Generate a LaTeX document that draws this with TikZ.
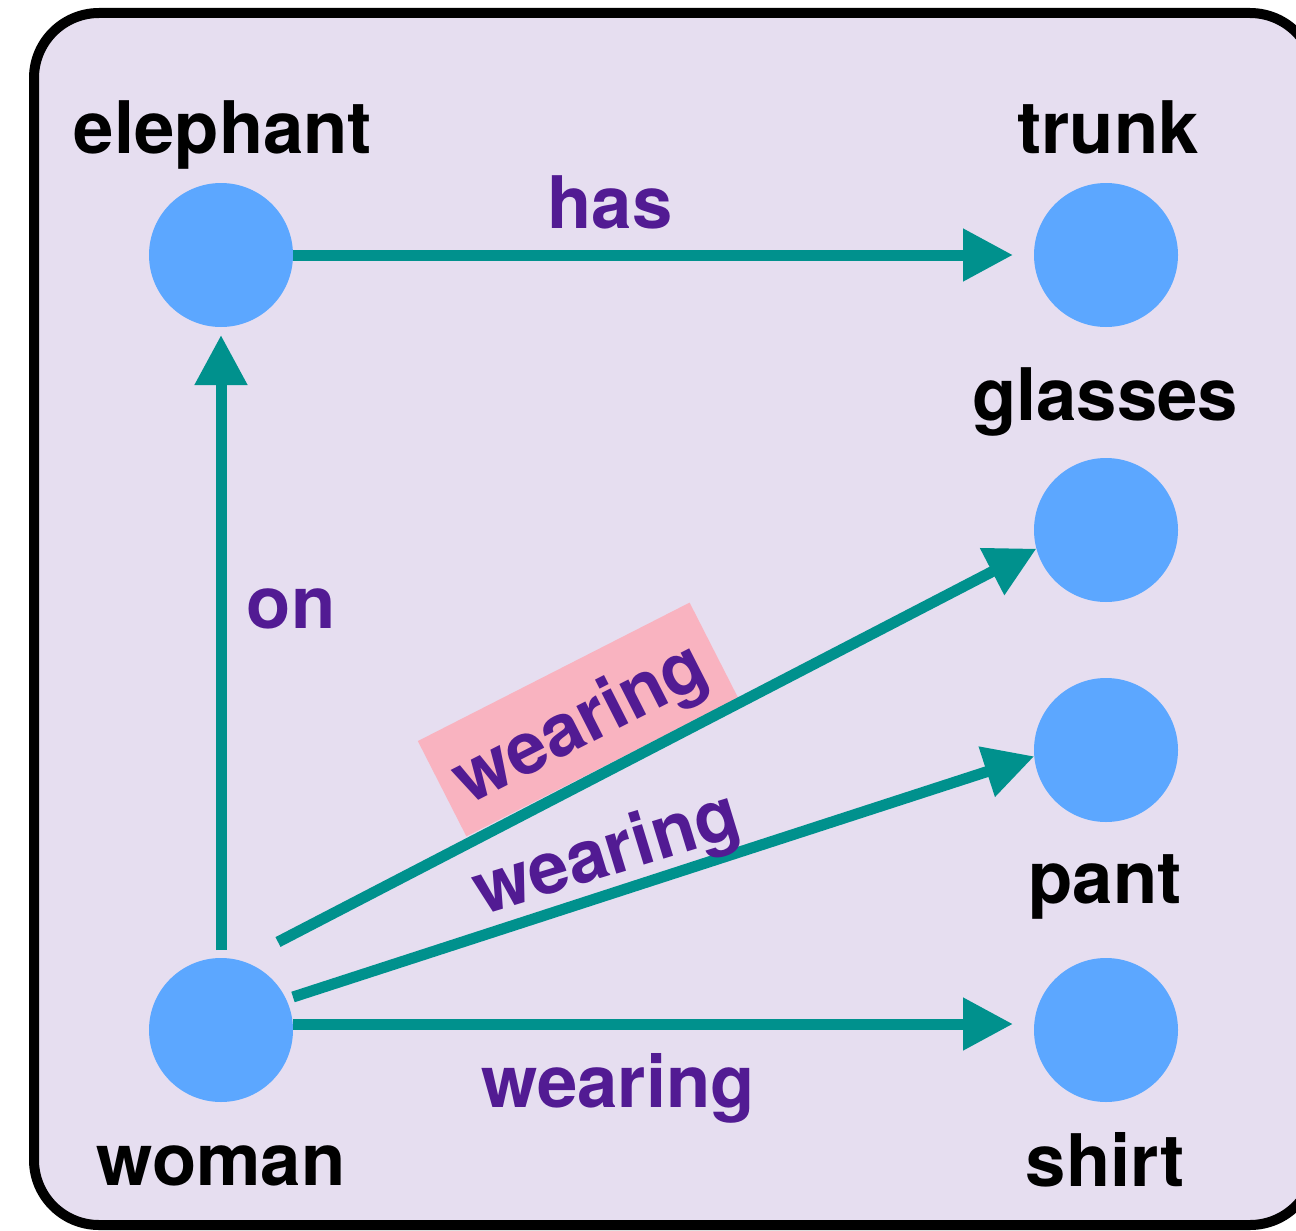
\documentclass[tikz,border=0pt]{standalone}
\usepackage{fontspec}
\setmainfont{TeX Gyre Heros}
\usetikzlibrary{arrows.meta,calc}
\definecolor{bgfill}{HTML}{E6DEF0}
\definecolor{nodeblue}{HTML}{5CA7FF}
\definecolor{edgeteal}{HTML}{00918D}
\definecolor{lblpurple}{HTML}{521B93}
\definecolor{hlpink}{HTML}{F9B3C0}
\begin{document}
\begin{tikzpicture}[x=1pt,y=-1pt,
  ent/.style={circle,fill=nodeblue,minimum size=144pt,inner sep=0pt,outer sep=0pt},
  entname/.style={font=\fontsize{72.5}{80}\selectfont\bfseries,text=black,inner sep=0pt,anchor=base},
  rel/.style={font=\fontsize{72.5}{80}\selectfont\bfseries,text=lblpurple,inner sep=0pt,anchor=base},
  link/.style={draw=edgeteal,line width=11pt,-{Triangle[length=50pt,width=50pt]}}]
\useasboundingbox (0,0) rectangle (1296,1231);
\fill[white] (0,0) rectangle (1296,1231);
\draw[line width=10pt,fill=bgfill,rounded corners=65pt] (34,13) rectangle (1315,1225);

\node[ent] (elephant) at (221,255) {};
\node[ent] (trunk) at (1106,255) {};
\node[ent] (glasses) at (1106,530) {};
\node[ent] (pant) at (1106,750) {};
\node[ent] (shirt) at (1106,1030) {};
\node[ent] (woman) at (221,1030) {};

\node[entname] (lelephant) at (223,153) {elephant};
\node[entname] (ltrunk) at (1108,153) {trunk};
\node[entname] (lglasses) at (1105,420) {glasses};
\node[entname] (lpant) at (1105,903) {pant};
\node[entname] (lshirt) at (1105,1186) {shirt};
\node[entname] (lwoman) at (221,1185) {woman};

\node[rel,fill=hlpink,rotate=27,anchor=center,minimum width=305pt,minimum height=107pt,text height=0pt,text depth=0pt] (lwear1) at (578,719.5) {\smash{\raisebox{-27pt}{wearing}}};

\draw[link] (elephant.east) -- ($(trunk.west)+(-21,0)$);
\draw[link] ($(woman.north)+(0,-8)$) -- ($(elephant.south)+(0,8)$);
\draw[link] ($(woman)+(57,-88)$) -- (glasses.195);
\draw[link] ($(woman)+(72,-33)$) -- (pant.185);
\draw[link] ($(woman)+(72,-6)$) -- ($(shirt.west)+(-21,-6)$);

\node[rel] (lhas) at (610,228) {has};
\node[rel] (lon) at (291,628) {on};
\node[rel,rotate=17] (lwear2) at (613,875) {wearing};
\node[rel] (lwear3) at (618,1107) {wearing};
\end{tikzpicture}
\end{document}
